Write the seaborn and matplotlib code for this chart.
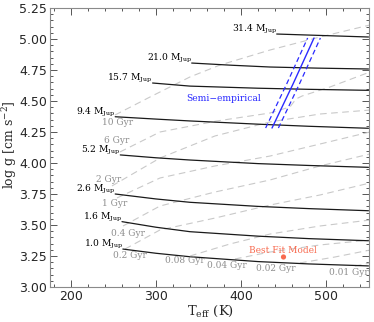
import matplotlib

matplotlib.use("Agg")

import matplotlib.pyplot as plt
import seaborn as sns
from matplotlib.ticker import MultipleLocator, FormatStrFormatter

# Mass tracks (Teff in K, log g in cgs)
mass_labels = ["31.4", "21.0", "15.7", "9.4", "5.2", "2.6", "1.6", "1.0"]
mass_teff = [
	[442, 550],
	[342, 390, 434, 490, 550],
	[296, 340, 420, 480, 550],
	[252, 300, 340, 420, 480, 550],
	[258, 300, 340, 420, 480, 550],
	[252, 300, 340, 420, 480, 550],
	[260, 300, 340, 420, 480, 550],
	[261, 300, 340, 420, 480, 550],
]
mass_logg = [
	[5.040, 5.016],
	[4.806, 4.788, 4.774, 4.765, 4.758],
	[4.645, 4.620, 4.603, 4.594, 4.586],
	[4.373, 4.354, 4.339, 4.313, 4.296, 4.280],
	[4.065, 4.042, 4.024, 3.995, 3.980, 3.965],
	[3.750, 3.710, 3.683, 3.650, 3.632, 3.615],
	[3.527, 3.482, 3.446, 3.410, 3.390, 3.373],
	[3.306, 3.272, 3.244, 3.205, 3.186, 3.170],
]

# Isochrones
iso_labels = ["10 Gyr", "6 Gyr", "2 Gyr", "1 Gyr", "0.4 Gyr", "0.2 Gyr",
	"0.08 Gyr", "0.04 Gyr", "0.02 Gyr", "0.01 Gyr"]
iso_teff = [
	[251.8, 292.9, 340.0, 375.3, 434.1, 492.9, 551.8],
	[257.6, 304.7, 371.8, 434.1, 457.6, 464.7, 471.8, 504.7, 551.8],
	[248.2, 304.7, 369.4, 434.1, 492.9, 551.8],
	[254.1, 304.7, 369.4, 434.1, 492.9, 551.8],
	[261.2, 304.7, 369.4, 434.1, 492.9, 551.8],
	[263.5, 304.7, 369.4, 434.1, 492.9, 551.8],
	[340.0, 387.1, 434.1, 492.9, 551.8],
	[392.9, 434.1, 492.9, 551.8],
	[469.4, 510.6, 551.8],
	[534.0, 552.0],
]
iso_logg = [
	[4.387, 4.532, 4.694, 4.790, 4.911, 5.016, 5.113],
	[4.089, 4.250, 4.339, 4.403, 4.452, 4.516, 4.540, 4.613, 4.734],
	[3.815, 4.040, 4.218, 4.331, 4.395, 4.427],
	[3.718, 3.879, 3.976, 4.056, 4.153, 4.250],
	[3.492, 3.653, 3.766, 3.863, 3.976, 4.073],
	[3.306, 3.460, 3.556, 3.661, 3.742, 3.839],
	[3.250, 3.347, 3.427, 3.492, 3.540],
	[3.226, 3.282, 3.339, 3.379],
	[3.194, 3.242, 3.298],
	[3.169, 3.194],
]
iso_label_teff = [255.3, 254.1, 244.5, 251.8, 267.1, 269.4, 334.1, 383.5, 441.2, 527.1]
iso_label_logg = [4.323, 4.185, 3.866, 3.677, 3.435, 3.250, 3.210, 3.177, 3.153, 3.113]

# Semi-empirical relation with its spread
semi_teff = [436.5, 461.2, 485.9]
semi_logg = [4.282, 4.637, 5.008]
semi_err = 7.5

best_teff = 450
best_logg = 3.242

sns.set_theme(style="white")
plt.rcParams.update({
	"font.family": ["DejaVu Serif"],
	"mathtext.fontset": "dejavuserif",
	"axes.edgecolor": "#8a8a8a",
	"axes.linewidth": 0.8,
})

iso_color = "#c9c9c9"
iso_text_color = "#8e8e8e"
semi_color = "#2a2aff"
best_color = "#f86a4f"

fig = plt.figure(figsize=(3.74, 3.22), dpi=100)
ax = fig.add_axes([0.133, 0.1087, 0.8523, 0.8665])

for tx, gy in zip(iso_teff, iso_logg):
	sns.lineplot(x=tx, y=gy, sort=False, ax=ax, color=iso_color,
		linewidth=0.8, linestyle=(0, (6, 4)))

for lab, tx, gy in zip(iso_labels, iso_label_teff, iso_label_logg):
	ax.text(tx, gy, lab, color=iso_text_color, fontsize=6.5, ha="center", va="center")

for lab, tx, gy in zip(mass_labels, mass_teff, mass_logg):
	sns.lineplot(x=tx, y=gy, sort=False, ax=ax, color="#1a1a1a", linewidth=0.9)
	ax.text(tx[0], gy[0] + 0.018, lab + r" M$_{\rm Jup}$", fontsize=6.6,
		ha="right", va="baseline", color="black")

sns.lineplot(x=semi_teff, y=semi_logg, sort=False, ax=ax, color=semi_color, linewidth=1.0)
for sgn in (-1, 1):
	sns.lineplot(x=[t + sgn * semi_err for t in semi_teff], y=semi_logg, sort=False,
		ax=ax, color=semi_color, linewidth=0.9, linestyle=(0, (4, 2.5)))
ax.text(380, 4.524, "Semi\u2212empirical", color=semi_color, fontsize=6.6,
	ha="center", va="center")

sns.scatterplot(x=[best_teff], y=[best_logg], ax=ax, color=best_color, s=14,
	edgecolor="none", zorder=5)
ax.text(449.4, 3.298, "Best Fit Model", color=best_color, fontsize=6.5,
	ha="center", va="center")

ax.set_xlim(175, 550)
ax.set_ylim(3.0, 5.25)
ax.xaxis.set_major_locator(MultipleLocator(100))
ax.xaxis.set_minor_locator(MultipleLocator(20))
ax.yaxis.set_major_locator(MultipleLocator(0.25))
ax.yaxis.set_minor_locator(MultipleLocator(0.05))
ax.yaxis.set_major_formatter(FormatStrFormatter("%.2f"))
ax.tick_params(which="both", direction="in", top=True, right=True,
	bottom=True, left=True, color="#555555", width=0.7)
ax.tick_params(which="major", length=5, labelsize=9, pad=2)
ax.tick_params(which="minor", length=2.5)
for lbl in ax.get_xticklabels() + ax.get_yticklabels():
	lbl.set_family("DejaVu Sans")

ax.set_xlabel(r"T$_{\rm eff}$ (K)", fontsize=9.5)
ax.set_ylabel(r"log g [cm s$^{-2}$]", fontsize=9)
ax.xaxis.set_label_coords(0.503, -0.062)
ax.yaxis.set_label_coords(-0.098, 0.51)

fig.savefig("out.png", dpi=100, facecolor="white")
plt.close(fig)
